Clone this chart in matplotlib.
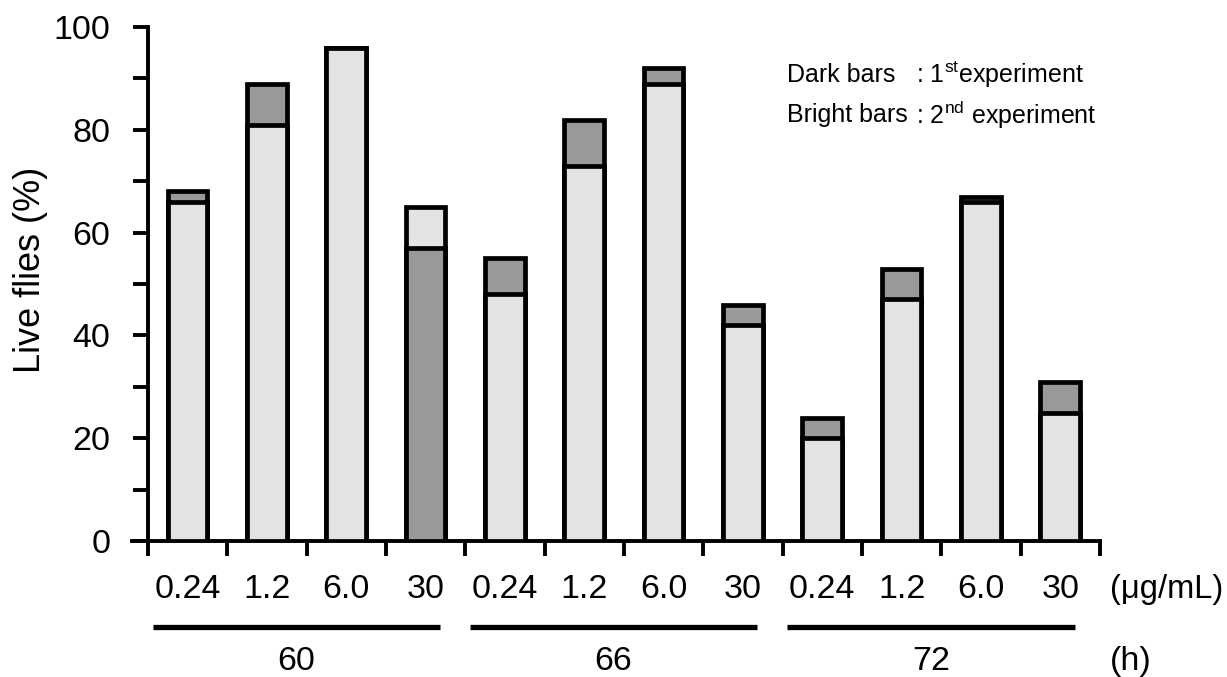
import matplotlib
matplotlib.use("Agg")
import matplotlib.pyplot as plt
from matplotlib.ticker import MultipleLocator

plt.rcParams['font.family'] = ['Liberation Sans', 'DejaVu Sans']
plt.rcParams['mathtext.fontset'] = 'custom'
plt.rcParams['mathtext.rm'] = 'Liberation Sans'

# Survival data: three time points, four concentrations each
hours = ["60", "66", "72"]
concentrations = ["0.24", "1.2", "6.0", "30"]
first_exp = [68, 89, 96, 57, 55, 82, 92, 46, 24, 53, 67, 31]   # dark bars
second_exp = [66, 81, 96, 65, 48, 73, 89, 42, 20, 47, 66, 25]  # bright bars

DARK = "#999999"
BRIGHT = "#e3e3e3"
FS = 24.5

fig = plt.figure(figsize=(12.27, 6.77), dpi=100)
ax = fig.add_axes([132 / 1227, 1 - 541 / 677, (1100 - 132) / 1227, 514 / 677])

n = len(first_exp)
xs = [i + 0.5 for i in range(n)]
width = 0.5
for x, d, b in zip(xs, first_exp, second_exp):
    # the taller bar goes behind so the shorter one stays visible
    pairs = sorted([(d, DARK), (b, BRIGHT)], key=lambda p: -p[0])
    for z, (v, c) in enumerate(pairs):
        ax.bar(x, v, width=width, color=c, edgecolor="black",
               linewidth=3.4, zorder=2 + z)

ax.set_xlim(-0.2, 12)
ax.set_ylim(0, 100)

for s in ("top", "right"):
    ax.spines[s].set_visible(False)
ax.spines["left"].set_position(("data", 0))
ax.spines["left"].set_linewidth(2.8)
ax.spines["bottom"].set_linewidth(2.8)
ax.spines["left"].set_capstyle("projecting")

ax.yaxis.set_major_locator(MultipleLocator(20))
ax.yaxis.set_minor_locator(MultipleLocator(10))
ax.set_xticks(range(0, 13))
ax.set_xticklabels([])
ax.tick_params(axis="y", which="both", direction="out", length=11, width=2.8,
               labelsize=FS, pad=16)
ax.tick_params(axis="x", which="both", direction="out", length=11, width=2.8)

# concentration labels under each bar
for i, x in enumerate(xs):
    ax.text(x, -9.5, concentrations[i % 4], ha="center", va="center",
            fontsize=FS, clip_on=False)
ax.text(12.13, -9.5, "(μg/mL)", ha="left", va="center", fontsize=23.5,
        clip_on=False)

# time-point group lines and labels
for g, h in enumerate(hours):
    x0, x1 = g * 4 + 0.06, g * 4 + 3.68
    ax.plot([x0, x1], [-16.7, -16.7], color="black", linewidth=3.8,
            solid_capstyle="butt", clip_on=False)
    ax.text((x0 + x1) / 2, -23.4, h, ha="center", va="center",
            fontsize=FS, clip_on=False)
ax.text(12.13, -23.4, "(h)", ha="left", va="center", fontsize=FS, clip_on=False)

fig.text(30 / 1227, 1 - 270 / 677, "Live flies (%)", rotation=90,
         ha="center", va="center", fontsize=26)

# legend-style note
lx, cx = 787 / 1227, 916 / 1227
fig.text(lx, 1 - 75 / 677, "Dark bars", ha="left", va="center", fontsize=18)
fig.text(cx, 1 - 75 / 677, r": 1$^{\mathrm{st}}$experiment", ha="left",
         va="center", fontsize=18)
fig.text(lx, 1 - 115 / 677, "Bright bars", ha="left", va="center", fontsize=18)
fig.text(cx, 1 - 115 / 677, r": 2$^{\mathrm{nd}}$ experiment", ha="left",
         va="center", fontsize=18)

fig.savefig("out.png", dpi=100)
